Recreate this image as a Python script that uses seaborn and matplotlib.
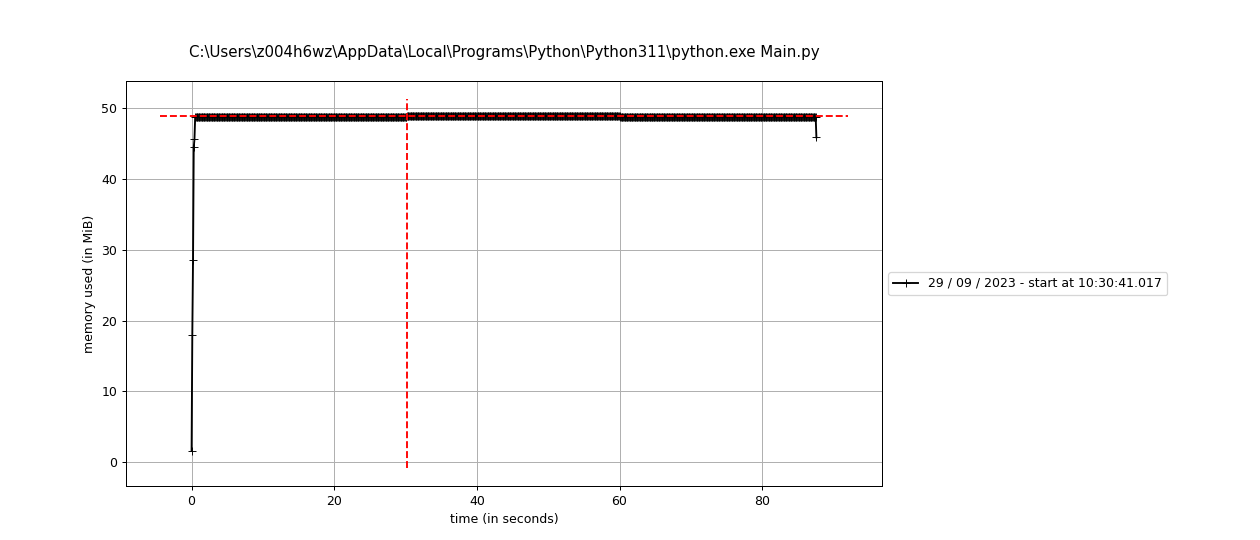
import matplotlib
matplotlib.use('Agg')
import matplotlib.pyplot as plt
import numpy as np
import pandas as pd
import seaborn as sns

# memory samples (0.1 s sampling)
SAMPLE_STEP = 0.1
ramp_time = [0.0, 0.1, 0.2, 0.3, 0.4]
ramp_mem = [1.6, 18.0, 28.6, 44.5, 45.6]
plateau_start = [0.5, 30.2, 60.1]
plateau_end = [30.1, 60.0, 87.5]
plateau_mem = [48.75, 48.9, 48.75]
tail_time = [87.6]
tail_mem = [45.9]

TITLE = r"C:\Users\z004h6wz\AppData\Local\Programs\Python\Python311\python.exe Main.py"
LABEL = "29 / 09 / 2023 - start at 10:30:41.017"

# assemble the series: constant plateaus sampled every step
t = list(ramp_time)
m = list(ramp_mem)
for start, end, level in zip(plateau_start, plateau_end, plateau_mem):
    n = int(round((end - start) / SAMPLE_STEP)) + 1
    t += [round(start + i * SAMPLE_STEP, 1) for i in range(n)]
    m += [level] * n
t += tail_time
m += tail_mem
df = pd.DataFrame({'time': t, 'mem': m})

fig = plt.figure(figsize=(14, 6), dpi=90)
ax = fig.add_axes([0.1, 0.1, 0.6, 0.75])

sns.lineplot(data=df, x='time', y='mem', color='k', marker='+',
             markersize=6, markeredgecolor='k', estimator=None,
             label=LABEL, ax=ax)

# max memory markers, spanning the current view like mprof does
max_idx = int(np.argmax(df['mem'].values))
max_mem = df['mem'].iloc[max_idx]
max_t = df['time'].iloc[max_idx]
bottom, top = ax.get_ylim()
left, right = ax.get_xlim()
ax.hlines(max_mem, left + 0.001, right - 0.001, colors='r', linestyles='--')
ax.vlines(max_t, bottom + 0.001, top - 0.001, colors='r', linestyles='--')

ax.set_xlabel('time (in seconds)')
ax.set_ylabel('memory used (in MiB)')
ax.set_title(TITLE, pad=19)
ax.grid(True)
ax.legend(loc='center left', bbox_to_anchor=(1, 0.5))

fig.savefig('out.png', dpi=90)
